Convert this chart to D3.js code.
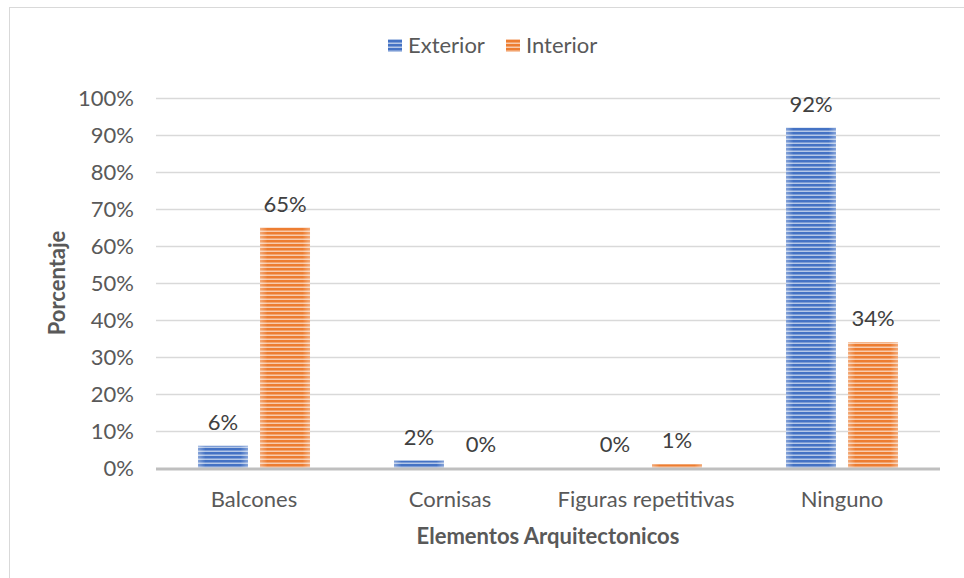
<!DOCTYPE html>
<html><head><meta charset="utf-8">
<script src="https://cdn.jsdelivr.net/npm/d3@7"></script>
<style>body{margin:0;background:#fff}svg text{font-family:Lato,"Open Sans",sans-serif;fill:#595959}</style>
</head><body><svg id="c" width="964" height="578"></svg>
<script>
const categories = ["Balcones","Cornisas","Figuras repetitivas","Ninguno"];
const seriesNames = ["Exterior","Interior"];
const exterior = [6,2,0,92];
const interior = [65,0,1,34];
const yTicks = [0,10,20,30,40,50,60,70,80,90,100];
const colors = {Exterior:"#4472c4",Interior:"#ed7d31"};
const light = {Exterior:"#b4c7e7",Interior:"#f8cbad"};

const svg = d3.select("#c");
svg.append("rect").attr("x",9.5).attr("y",7.5).attr("width",1000).attr("height",1000).attr("fill","#fff").attr("stroke","#d9d9d9");

const defs = svg.append("defs");
seriesNames.forEach(s=>{
  const p = defs.append("pattern").attr("id","pat-"+s).attr("patternUnits","userSpaceOnUse").attr("width",8).attr("height",4);
  p.append("rect").attr("width",8).attr("height",4).attr("fill",light[s]);
  p.append("rect").attr("width",8).attr("height",2.5).attr("fill",colors[s]);
  const g = defs.append("linearGradient").attr("id","edge-"+s);
  g.append("stop").attr("offset","0%").attr("stop-color","#fff").attr("stop-opacity",0.35);
  g.append("stop").attr("offset","15%").attr("stop-color","#fff").attr("stop-opacity",0);
  g.append("stop").attr("offset","85%").attr("stop-color","#fff").attr("stop-opacity",0);
  g.append("stop").attr("offset","100%").attr("stop-color","#fff").attr("stop-opacity",0.35);
});

const pLeft=156, pRight=940, pTop=98, pBottom=468;
const x0 = d3.scaleBand().domain(categories).range([pLeft,pRight]);
const x1 = d3.scaleBand().domain(seriesNames).range([0,x0.bandwidth()]).paddingInner(0.194).paddingOuter(0.677);
const y = d3.scaleLinear().domain([0,100]).range([pBottom,pTop]);

// gridlines
svg.append("g").selectAll("line").data(yTicks.filter(d=>d>0)).join("line")
  .attr("x1",pLeft).attr("x2",pRight).attr("y1",d=>Math.round(y(d))+0.5).attr("y2",d=>Math.round(y(d))+0.5)
  .attr("stroke","#d9d9d9").attr("stroke-width",1.5);

// y axis labels
const yAxis = d3.axisLeft(y).tickValues(yTicks).tickFormat(d=>d+"%").tickSize(0).tickPadding(0);
const ga = svg.append("g").attr("transform",`translate(134,0)`).call(yAxis);
ga.select(".domain").remove();
ga.selectAll("text").attr("font-size",22).attr("fill","#595959").style("font-family","Lato");

const data = categories.map((c,i)=>({cat:c, vals:[{s:"Exterior",v:exterior[i]},{s:"Interior",v:interior[i]}]}));
const groups = svg.append("g").selectAll("g").data(data).join("g").attr("transform",d=>`translate(${x0(d.cat)},0)`);
groups.selectAll("rect.bar").data(d=>d.vals).join("rect").attr("class","bar")
  .attr("x",d=>x1(d.s)).attr("width",x1.bandwidth())
  .attr("y",d=>y(d.v)).attr("height",d=>pBottom-y(d.v))
  .attr("fill",d=>"url(#pat-"+d.s+")");
groups.selectAll("rect.edge").data(d=>d.vals).join("rect").attr("class","edge")
  .attr("x",d=>x1(d.s)).attr("width",x1.bandwidth())
  .attr("y",d=>y(d.v)).attr("height",d=>pBottom-y(d.v))
  .attr("fill",d=>"url(#edge-"+d.s+")");
groups.selectAll("text").data(d=>d.vals).join("text")
  .attr("x",d=>x1(d.s)+x1.bandwidth()/2).attr("y",d=>y(d.v)-16)
  .attr("text-anchor","middle").attr("font-size",22).style("fill","#404040")
  .text(d=>d.v+"%");

// baseline
svg.append("line").attr("x1",pLeft).attr("x2",pRight).attr("y1",pBottom+1).attr("y2",pBottom+1).attr("stroke","#bfbfbf").attr("stroke-width",3);

// x labels
const xAxis = d3.axisBottom(x0).tickSize(0).tickPadding(0);
const gx = svg.append("g").attr("transform",`translate(0,${pBottom+39})`).call(xAxis);
gx.select(".domain").remove();
gx.selectAll("text").attr("font-size",22).attr("fill","#595959").attr("dy",0).style("font-family","Lato");

svg.append("text").attr("x",548).attr("y",544).attr("text-anchor","middle").attr("font-size",22).attr("font-weight","bold").text("Elementos Arquitectonicos");
svg.append("text").attr("transform","translate(65,283) rotate(-90)").attr("text-anchor","middle").attr("font-size",22).attr("font-weight","bold").text("Porcentaje");

// legend
const leg = svg.append("g");
const legX = [388,506];
seriesNames.forEach((s,i)=>{
  leg.append("rect").attr("x",legX[i]).attr("y",39).attr("width",14).attr("height",13).attr("fill","url(#pat-"+s+")");
  leg.append("text").attr("x",legX[i]+20).attr("y",53).attr("font-size",22).text(s);
});
</script></body></html>
